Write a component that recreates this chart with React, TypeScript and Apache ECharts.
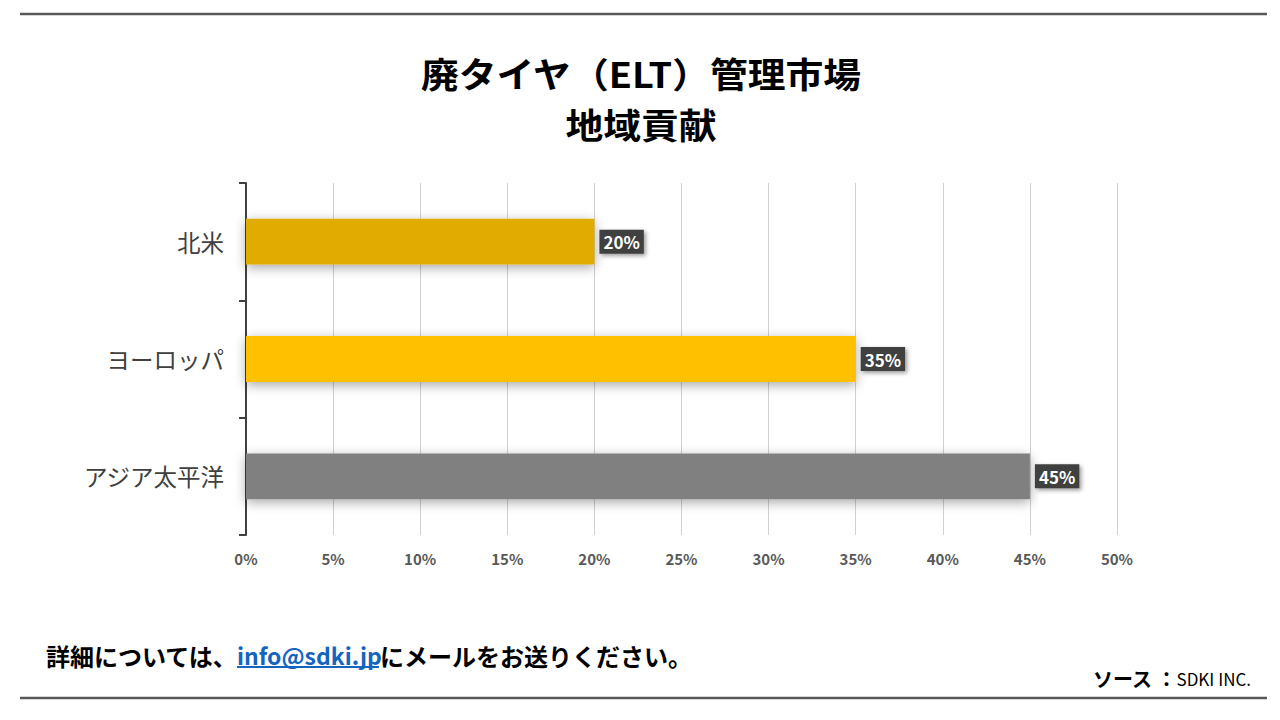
import React, { useEffect, useRef } from "react";
import * as echarts from "echarts";

const categories = ["北米", "ヨーロッパ", "アジア太平洋"];
const values = [20, 35, 45];
const barColors = ["#E0AC00", "#FFC000", "#808080"];
const xMax = 50;
const xInterval = 5;

const FONT = '"Noto Sans CJK JP", "Noto Sans", sans-serif';

export default function App() {
  const ref = useRef<HTMLDivElement>(null);
  useEffect(() => {
    if (!ref.current) return;
    const chart = echarts.init(ref.current, undefined, { renderer: "svg" });
    chart.setOption({
      animation: false,
      backgroundColor: "#ffffff",
      textStyle: { fontFamily: FONT },
      grid: { left: 246, right: 163, top: 183, bottom: 185, containLabel: false },
      xAxis: {
        type: "value",
        min: 0,
        max: xMax,
        interval: xInterval,
        axisLine: { show: false },
        axisTick: { show: false },
        splitLine: { show: true, lineStyle: { color: "#D0D0D0", width: 1 } },
        axisLabel: {
          formatter: "{value}%",
          color: "#595959",
          fontSize: 15,
          fontWeight: "bold",
          fontFamily: FONT,
          margin: 16,
        },
      },
      yAxis: {
        type: "category",
        data: categories,
        inverse: true,
        axisLine: { show: true, lineStyle: { color: "#404040", width: 2 } },
        axisTick: { show: true, length: 7, lineStyle: { color: "#404040", width: 2 } },
        axisLabel: { color: "#404040", fontSize: 23.5, fontFamily: FONT, margin: 22 },
      },
      series: [
        {
          type: "bar",
          barWidth: "39%",
          data: values.map((v, i) => ({
            value: v,
            itemStyle: {
              color: barColors[i],
              shadowBlur: 12,
              shadowColor: "rgba(0,0,0,0.35)",
              shadowOffsetY: 3,
            },
          })),
          label: {
            show: true,
            position: "right",
            distance: 5,
            formatter: "{c}%",
            color: "#ffffff",
            fontSize: 17,
            fontWeight: "bold",
            fontFamily: FONT,
            backgroundColor: "#404040",
            padding: [4, 4, 3, 4],
            shadowBlur: 4,
            shadowColor: "rgba(0,0,0,0.4)",
            shadowOffsetX: 2,
            shadowOffsetY: 2,
          },
        },
      ],
      graphic: [
        { type: "line", shape: { x1: 20, y1: 14, x2: 1267, y2: 14 }, style: { stroke: "#595959", lineWidth: 2.5 } },
        { type: "line", shape: { x1: 20, y1: 698, x2: 1267, y2: 698 }, style: { stroke: "#595959", lineWidth: 2.5 } },
        {
          type: "text",
          x: 641,
          y: 73,
          scaleX: 1.08,
          style: {
            text: "廃タイヤ（ELT）管理市場",
            fill: "#000000",
            font: `bold 35px ${FONT}`,
            align: "center",
            verticalAlign: "middle",
          },
        },
        {
          type: "text",
          x: 641,
          y: 124,
          scaleX: 1.08,
          style: {
            text: "地域貢献",
            fill: "#000000",
            font: `bold 35px ${FONT}`,
            align: "center",
            verticalAlign: "middle",
          },
        },
        {
          type: "text",
          x: 46,
          y: 655,
          style: { text: "詳細については、", fill: "#000000", font: `bold 24px ${FONT}`, verticalAlign: "middle" },
        },
        {
          type: "text",
          x: 237,
          y: 655,
          style: { text: "info@sdki.jp", fill: "#1565C0", font: `bold 23px ${FONT}`, verticalAlign: "middle" },
        },
        { type: "line", shape: { x1: 237, y1: 667, x2: 379, y2: 667 }, style: { stroke: "#1565C0", lineWidth: 2 } },
        {
          type: "text",
          x: 380,
          y: 655,
          style: { text: "にメールをお送りください。", fill: "#000000", font: `bold 24px ${FONT}`, verticalAlign: "middle" },
        },
        {
          type: "text",
          x: 1251,
          y: 678,
          style: {
            text: "{b|ソース ：}{n|SDKI INC.}",
            align: "right",
            verticalAlign: "middle",
            rich: {
              b: { font: `bold 20px ${FONT}`, fill: "#000000" },
              n: { font: `17px ${FONT}`, fill: "#000000" },
            },
          },
        },
      ],
    });
    return () => chart.dispose();
  }, []);
  return <div ref={ref} style={{ position: "fixed", left: 0, top: 0, width: 1280, height: 720 }} />;
}
